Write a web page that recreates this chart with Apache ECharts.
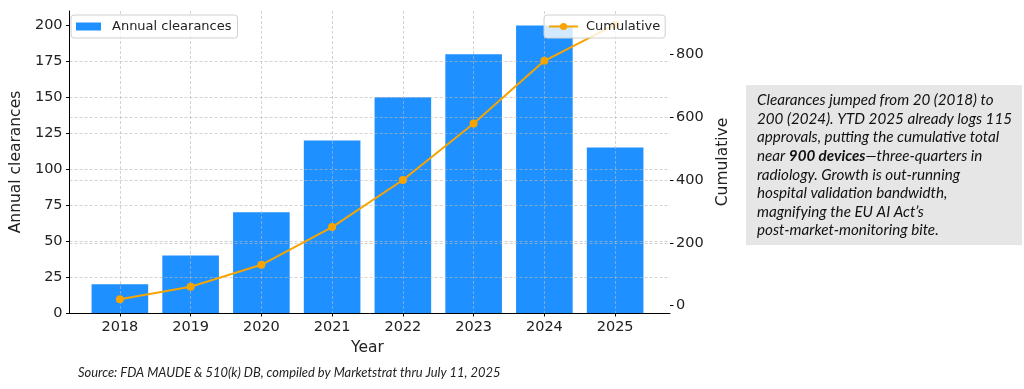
<!DOCTYPE html>
<html>
<head>
<meta charset="utf-8">
<script src="https://cdn.jsdelivr.net/npm/echarts@6/dist/echarts.min.js"></script>
<style>
html,body{margin:0;padding:0;background:#fff;}
#chart{width:1024px;height:389px;}
</style>
</head>
<body>
<div id="chart"></div>
<script>
const years = ['2018','2019','2020','2021','2022','2023','2024','2025'];
const annual = [20, 40, 70, 120, 150, 180, 200, 115];
const cumulative = [20, 60, 130, 250, 400, 580, 780, 895];
const leftTicks = [0, 25, 50, 75, 100, 125, 150, 175, 200];
const rightTicks = [0, 200, 400, 600, 800];
const noteText = 'Clearances jumped from 20 (2018) to\n200 (2024). YTD 2025 already logs 115\napprovals, putting the cumulative total\nnear {b|900 devices}{i|\u2014three-quarters in}\nradiology. Growth is out-running\nhospital validation bandwidth,\nmagnifying the EU AI Act\u2019s\npost-market-monitoring bite.';
const sourceText = 'Source: FDA MAUDE & 510(k) DB, compiled by Marketstrat thru July 11, 2025';

const F = 'DejaVu Sans';
const NF = 'Lato';
const NS = 15.2;
const gridLine = {show: true, showMinLine: false, showMaxLine: false, lineStyle: {color: 'rgba(185,185,185,0.7)', type: [3, 2], width: 0.9}};
const LMIN = 0, LMAX = 210, RMIN = -23.75, RMAX = 938.75;

const chart = echarts.init(document.getElementById('chart'), null, {renderer: 'canvas'});
chart.setOption({
  animation: false,
  backgroundColor: '#fff',
  grid: [
    {left: 65, right: 354, top: 11, bottom: 76},
    {left: 84.5, right: 373.5, top: 11, bottom: 76}
  ],
  legend: [
    {data: ['Annual clearances'], left: 71, top: 15, z: 10, icon: 'rect', itemWidth: 25, itemHeight: 8,
     backgroundColor: 'rgba(255,255,255,0.8)', borderColor: '#d0d0d0', borderWidth: 1, borderRadius: 3,
     padding: [5, 6, 5, 5], selectedMode: false,
     textStyle: {fontFamily: F, fontSize: 13, color: '#222', padding: [0, 0, 0, 6]}},
    {data: ['Cumulative'], left: 544, top: 15, z: 10, itemWidth: 29, itemHeight: 9,
     backgroundColor: 'rgba(255,255,255,0.8)', borderColor: '#d0d0d0', borderWidth: 1, borderRadius: 3,
     padding: [5, 5, 5, 4], selectedMode: false,
     textStyle: {fontFamily: F, fontSize: 13, color: '#222', padding: [0, 0, 0, 3]}}
  ],
  xAxis: [
    {type: 'value', gridIndex: 0, min: 0, max: 1, axisLine: {show: true, lineStyle: {color: '#000', width: 1}},
     axisTick: {show: false}, axisLabel: {show: false}, splitLine: {show: false}},
    {type: 'category', gridIndex: 1, data: years, boundaryGap: true, z: 3,
     axisLine: {show: false}, axisTick: {show: true, alignWithLabel: true, length: 3.5, lineStyle: {color: '#000'}},
     axisLabel: {fontFamily: F, fontSize: 14.5, color: '#222', margin: 7},
     splitLine: Object.assign({alignWithLabel: true}, gridLine, {showMinLine: true, showMaxLine: true}),
     name: 'Year', nameLocation: 'middle', nameGap: 24,
     nameTextStyle: {fontFamily: F, fontSize: 15.5, color: '#222'}}
  ],
  yAxis: [
    {type: 'value', gridIndex: 0, position: 'left', min: LMIN, max: LMAX, interval: 25, z: 3,
     axisLine: {show: true, lineStyle: {color: '#000', width: 1}},
     axisTick: {show: true, length: 3.5, lineStyle: {color: '#000'}, customValues: leftTicks},
     axisLabel: {fontFamily: F, fontSize: 14.5, color: '#222', margin: 7, customValues: leftTicks},
     splitLine: gridLine,
     name: 'Annual clearances', nameLocation: 'middle', nameRotate: 90, nameGap: 40,
     nameTextStyle: {fontFamily: F, fontSize: 15.5, color: '#222'}},
    {type: 'value', gridIndex: 0, position: 'right', min: RMIN, max: RMAX, minInterval: 200, maxInterval: 200, z: 3,
     axisLine: {show: false},
     axisTick: {show: true, length: 3.5, lineStyle: {color: '#000'}, customValues: rightTicks},
     axisLabel: {fontFamily: F, fontSize: 14.5, color: '#222', margin: 6, customValues: rightTicks},
     splitLine: gridLine,
     name: 'Cumulative', nameLocation: 'middle', nameRotate: 90, nameGap: 37,
     nameTextStyle: {fontFamily: F, fontSize: 15.5, color: '#222'}},
    {type: 'value', gridIndex: 1, min: LMIN, max: LMAX, show: false, splitLine: {show: false}},
    {type: 'value', gridIndex: 1, min: RMIN, max: RMAX, show: false, splitLine: {show: false}}
  ],
  series: [
    {name: 'Annual clearances', type: 'bar', xAxisIndex: 1, yAxisIndex: 2, data: annual, barWidth: '80%', z: 2,
     itemStyle: {color: '#1E90FF'}},
    {name: 'Cumulative', type: 'line', xAxisIndex: 1, yAxisIndex: 3, data: cumulative, z: 5,
     symbol: 'circle', symbolSize: 8, lineStyle: {color: '#F7A400', width: 2}, itemStyle: {color: '#F7A400'}}
  ],
  graphic: [
    {type: 'rect', left: 746, top: 85, shape: {width: 276, height: 160}, style: {fill: '#e6e6e6'}, z: 1},
    {type: 'text', left: 757, top: 91, z: 2,
     style: {text: noteText, fontFamily: NF, fontStyle: 'italic', fontSize: NS, lineHeight: 18.6, fill: '#111',
       rich: {
         b: {fontFamily: NF, fontStyle: 'italic', fontWeight: 'bold', fontSize: NS, lineHeight: 18.6, fill: '#111'},
         i: {fontFamily: NF, fontStyle: 'italic', fontSize: NS, lineHeight: 18.6, fill: '#111'}
       }}},
    {type: 'text', left: 78, top: 366, z: 2,
     style: {text: sourceText, fontFamily: NF, fontStyle: 'italic', fontSize: 12.9, fill: '#222'}}
  ]
});
</script>
</body>
</html>
